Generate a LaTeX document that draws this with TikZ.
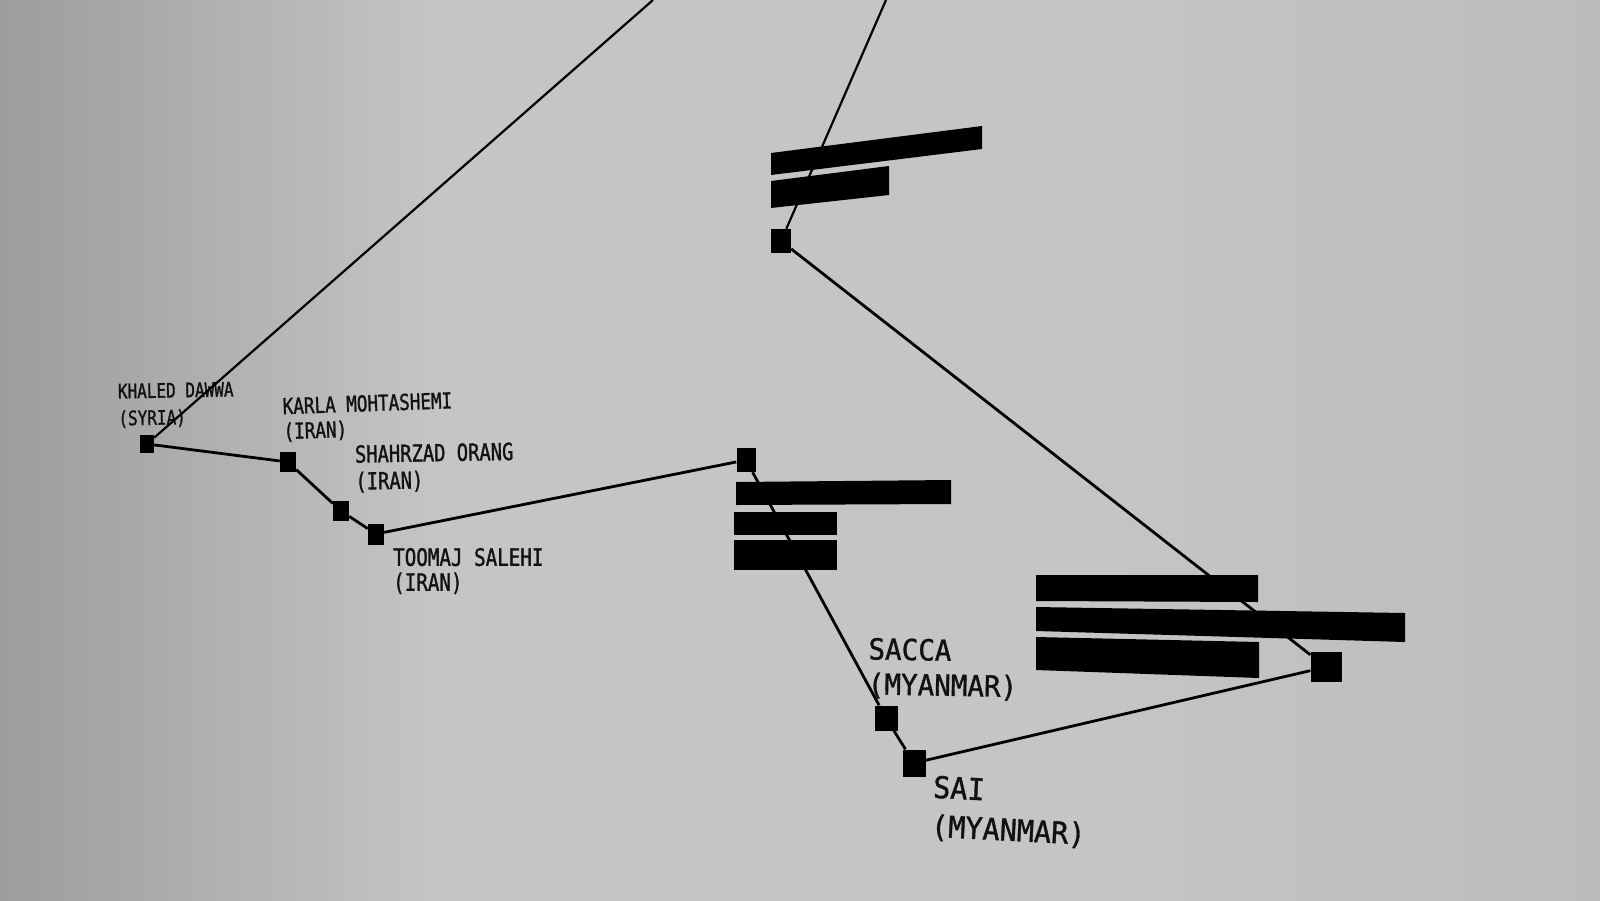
\documentclass[tikz,border=0pt]{standalone}
\usepackage{fontspec}
\newfontfamily\plexfont{DejaVu Sans Mono}[FakeStretch=0.8, FakeBold=1.2]
\newfontfamily\plexwide{DejaVu Sans Mono}[FakeStretch=0.95, FakeBold=1.2]
\definecolor{wallL}{HTML}{9C9C9A}
\definecolor{wallM}{HTML}{C5C5C3}
\definecolor{wallR}{HTML}{BCBCBA}
\definecolor{ink}{HTML}{111111}
\tikzset{
  cell/.style n args={2}{fill=black, inner sep=0pt, minimum width=#1, minimum height=#2},
  wire/.style={line width=2.8pt, black},
  tag/.style={anchor=west, align=left, inner sep=0pt, text=ink},
}
\newcommand{\tagfont}[2]{\plexfont\fontsize{#1}{#2}\selectfont}
\newcommand{\widefont}[2]{\plexwide\fontsize{#1}{#2}\selectfont}

\begin{document}
\begin{tikzpicture}[x=1pt, y=-1pt]
\useasboundingbox (0,0) rectangle (1600,900);
\fill[wallM] (-5,-5) rectangle (1605,905);
\shade[left color=wallL, right color=wallM] (-5,-5) rectangle (441,905);
\shade[left color=wallM, right color=wallR] (1099,-5) rectangle (1605,905);

\coordinate (topA) at (653,0);
\coordinate (topB) at (886,0);

\node[cell={14pt}{18pt}] (khaled) at (147,444) {};
\node[cell={16pt}{20pt}] (karla) at (288,462) {};
\node[cell={16pt}{20pt}] (shahrzad) at (341,511) {};
\node[cell={16pt}{21pt}] (toomaj) at (376,534) {};
\node[cell={19pt}{24pt}] (hub) at (746,460) {};
\node[cell={20pt}{24pt}] (upper) at (781,241) {};
\node[cell={23pt}{25pt}] (sacca) at (886,718) {};
\node[cell={23pt}{27pt}] (sai) at (914,763) {};
\node[cell={31pt}{30pt}] (east) at (1326,667) {};

\node[tag, font=\tagfont{20}{27}, rotate=1] (khaledtag) at (118,406) {KHALED DAWWA\\(SYRIA)};
\node[tag, font=\tagfont{22}{25}, rotate=2] (karlatag) at (283,420) {KARLA MOHTASHEMI\\(IRAN)};
\node[tag, font=\tagfont{23.5}{27}, rotate=1] (shahrzadtag) at (355,469) {SHAHRZAD ORANG\\(IRAN)};
\node[tag, font=\tagfont{24}{25}] (toomajtag) at (393,571) {TOOMAJ SALEHI\\(IRAN)};
\node[tag, font=\widefont{29}{35}, rotate=-1] (saccatag) at (868,668) {SACCA\\(MYANMAR)};
\node[tag, font=\widefont{30}{39}, rotate=-3] (saitag) at (932,808) {SAI\\(MYANMAR)};

\draw[wire, line width=2.2pt] (topA) -- (khaled);
\draw[wire, line width=2.2pt] (topB) -- (upper);
\draw[wire] (khaled) -- (karla) -- (shahrzad) -- (toomaj) -- (hub);
\draw[wire] (hub) -- (sacca) -- (sai) -- (east);
\draw[wire] (upper) -- (east);

% redacted blocks
\fill (771,153) -- (982,126) -- (982,149) -- (771,175) -- cycle;
\fill (771,181) -- (889,166) -- (889,195) -- (771,208) -- cycle;
\fill (736,482) -- (951,480) -- (951,504) -- (736,505) -- cycle;
\fill (734,512) -- (837,512) -- (837,535) -- (734,535) -- cycle;
\fill (734,540) -- (837,540) -- (837,570) -- (734,570) -- cycle;
\fill (1036,575) -- (1258,575) -- (1258,602) -- (1036,601) -- cycle;
\fill (1036,607) -- (1405,613) -- (1405,642) -- (1036,631) -- cycle;
\fill (1036,637) -- (1259,642) -- (1259,678) -- (1036,670) -- cycle;
\end{tikzpicture}
\end{document}
